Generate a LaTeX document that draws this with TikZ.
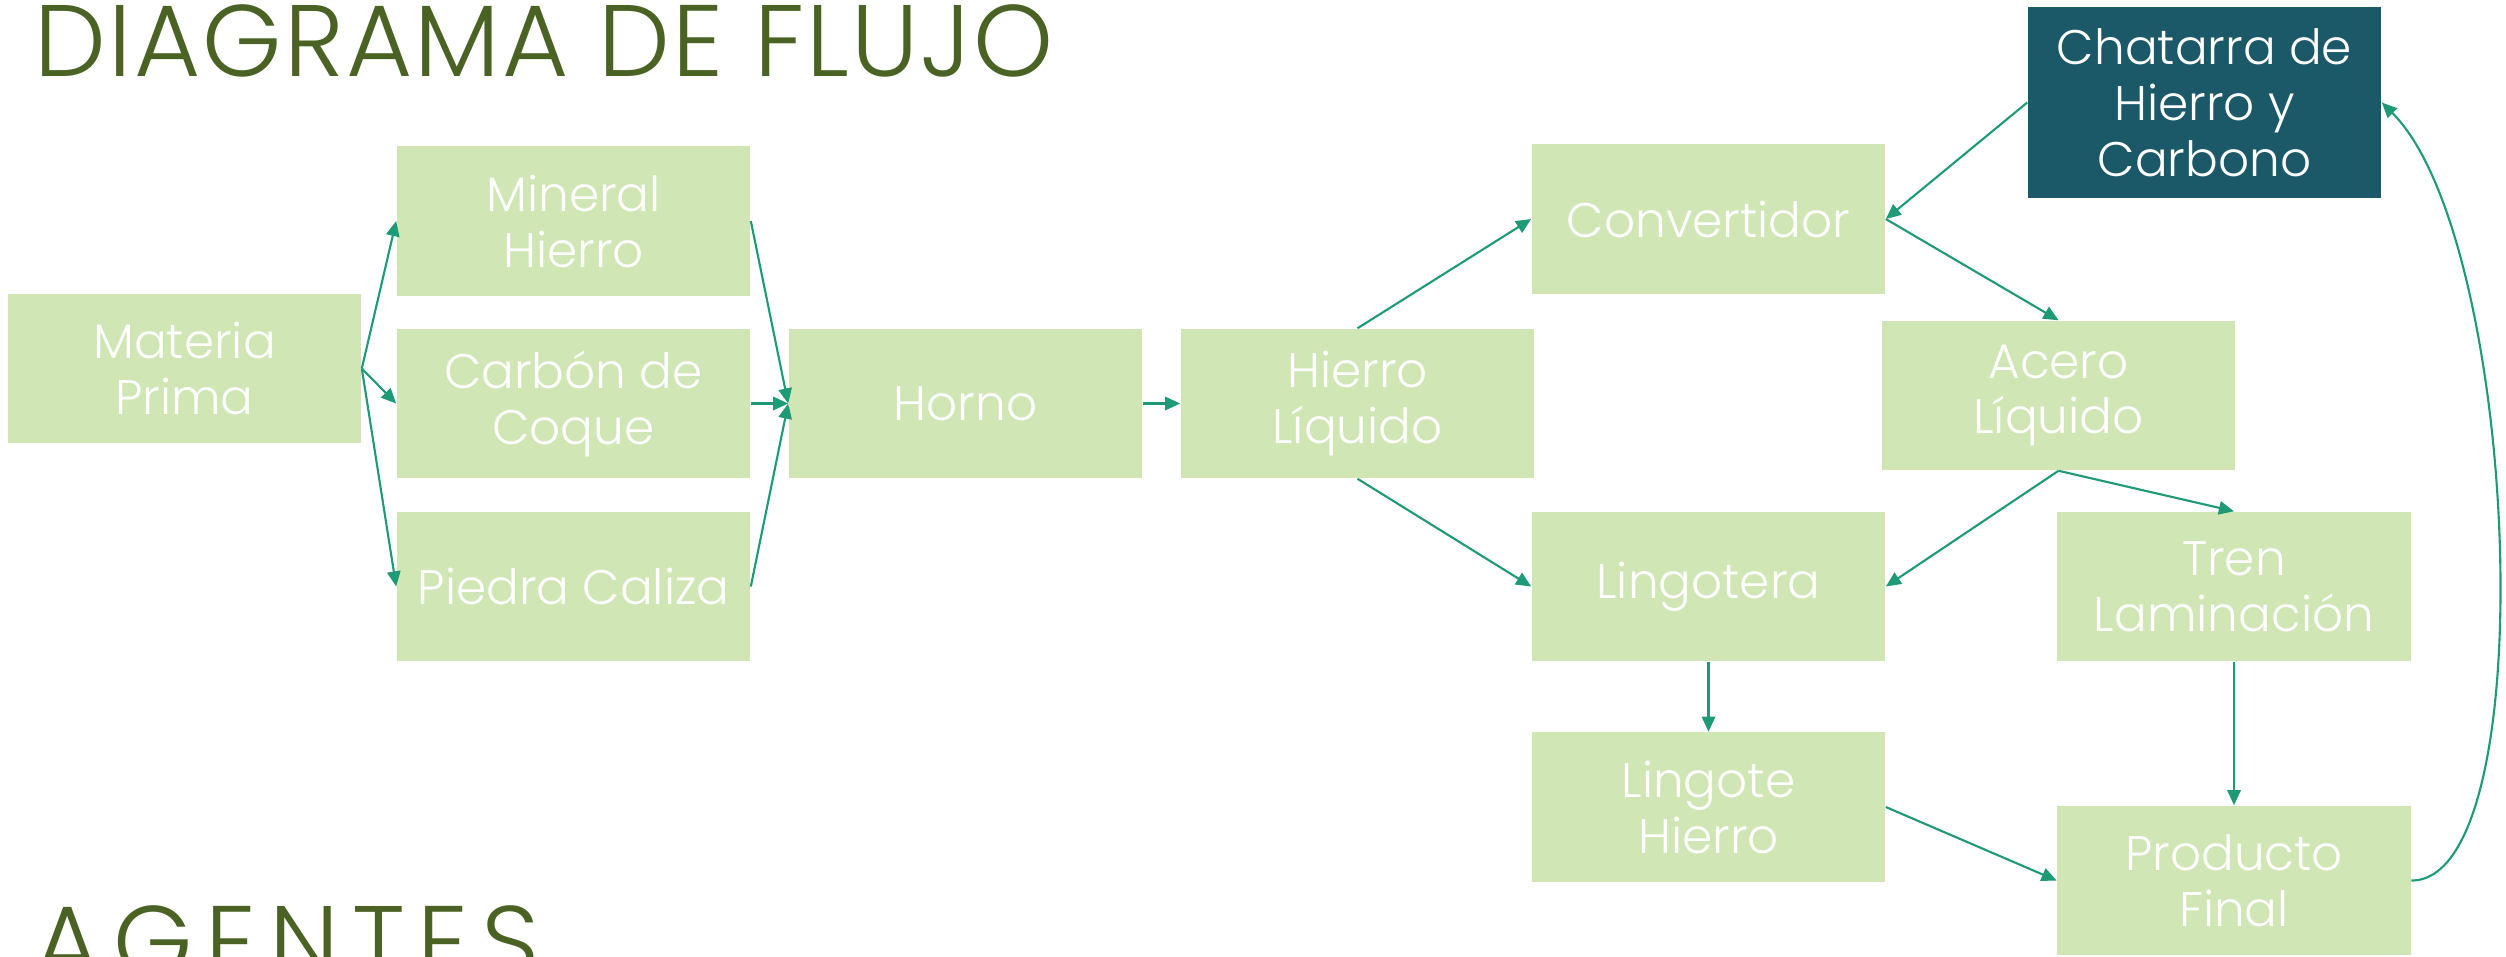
\documentclass[tikz,border=0pt]{standalone}
\usepackage{fontspec}
\setmainfont{Poppins Light}
\usetikzlibrary{arrows.meta}
\definecolor{boxgreen}{HTML}{D0E6B4}
\definecolor{scrapteal}{HTML}{1B5868}
\definecolor{flowgreen}{HTML}{1F9A77}
\definecolor{titlegreen}{HTML}{4A6324}
\tikzset{
  box/.style={fill=boxgreen, minimum width=3.53cm, minimum height=1.49cm,
    inner sep=0pt, align=center, text=white,
    font=\fontsize{13.8pt}{15.9pt}\selectfont},
  flow/.style={draw=flowgreen, line width=0.6pt,
    -{Triangle[length=4.3pt,width=3.8pt]}},
  heading/.style={anchor=base west, inner sep=0pt, text=titlegreen,
    font=\fontsize{28.9pt}{30pt}\selectfont}
}
\begin{document}
\begin{tikzpicture}[x=0.01cm, y=-0.01cm]
\useasboundingbox (0,0) rectangle (2506,956);
\clip (0,0) rectangle (2506,956);
\fill[white] (0,0) rectangle (2506,956);

% headings
\node[heading] (titulo) at (34,76.5) {\addfontfeature{LetterSpace=2.2}DIAGRAMA DE FLUJO};
\node[heading] (agentes) at (34,977) {\addfontfeature{LetterSpace=12.5}AGENTES};

% process boxes
\node[box] (materia) at (184.5,368.5) {Materia\\Prima};
\node[box] (mineral) at (573.5,221) {Mineral\\Hierro};
\node[box] (carbon) at (573.5,403.5) {Carbón de\\Coque};
\node[box] (piedra) at (573.5,586.5) {Piedra Caliza};
\node[box] (horno) at (965.5,403.5) {Horno};
\node[box] (hierro) at (1357.5,403.5) {Hierro\\Líquido};
\node[box] (convertidor) at (1708.5,219) {Convertidor};
\node[box, fill=scrapteal, minimum height=1.91cm] (chatarra) at (2204.5,102.5) {Chatarra de\\Hierro y\\Carbono};
\node[box] (acero) at (2058.5,395.5) {Acero\\Líquido};
\node[box] (lingotera) at (1708.5,586.5) {Lingotera};
\node[box] (tren) at (2234,586.5) {Tren\\Laminación};
\node[box] (lingote) at (1708.5,807) {Lingote\\Hierro};
\node[box] (producto) at (2234,880.5) {Producto\\Final};

% connectors
\draw[flow] (materia.east) -- (mineral.west);
\draw[flow] (materia.east) -- (carbon.west);
\draw[flow] (materia.east) -- (piedra.west);
\draw[flow] (mineral.east) -- (horno.west);
\draw[flow] (carbon.east) -- (horno.west);
\draw[flow] (piedra.east) -- (horno.west);
\draw[flow] (horno.east) -- (hierro.west);
\draw[flow] (hierro.north) -- (convertidor.west);
\draw[flow] (hierro.south) -- (lingotera.west);
\draw[flow] (chatarra.west) -- (convertidor.east);
\draw[flow] (convertidor.east) -- (acero.north);
\draw[flow] (acero.south) -- (lingotera.east);
\draw[flow] (acero.south) -- (tren.north);
\draw[flow] (lingotera.south) -- (lingote.north);
\draw[flow] (tren.south) -- (producto.north);
\draw[flow] (lingote.east) -- (producto.west);
\draw[flow] (producto.east) .. controls (2545,881) and (2520,240) .. (chatarra.east);
\end{tikzpicture}
\end{document}
